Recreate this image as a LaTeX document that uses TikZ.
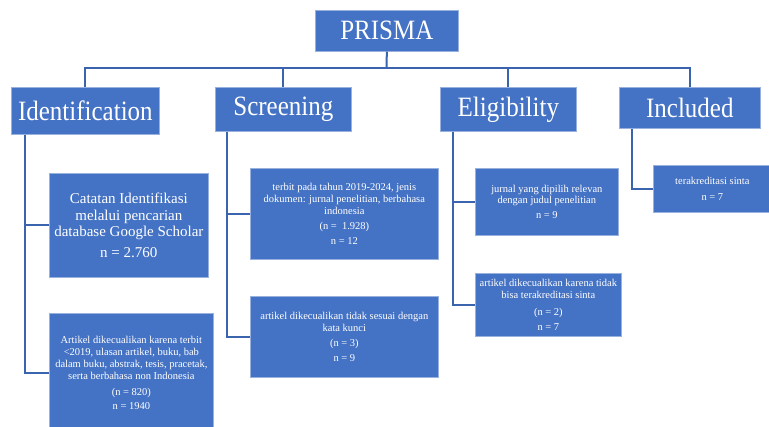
\documentclass[tikz,border=0pt]{standalone}
\usepackage{fontspec}
\usepackage{graphicx}
\setmainfont{Liberation Serif}
\definecolor{boxblue}{HTML}{4472C4}
\definecolor{linkblue}{HTML}{3A64AE}
\newcommand{\tallword}[1]{\scalebox{1}[1.12]{#1}}
\begin{document}
\begin{tikzpicture}[x=1pt,y=-1pt,
  box/.style={draw=boxblue!55!white, line width=0.7pt, fill=boxblue, text=white, align=center, inner sep=0pt, anchor=north west},
  big/.style={box, font=\fontsize{25}{28}\selectfont},
  mid/.style={box, font=\fontsize{15}{16.5}\selectfont},
  small/.style={box, font=\fontsize{10.5}{11.8}\selectfont},
  link/.style={draw=linkblue, line width=2pt}
]
\clip (0,0) rectangle (769,427);
\fill[white] (0,0) rectangle (769,427);
% top level
\node[big, minimum width=143pt, minimum height=41pt] (prisma) at (315,10) {\tallword{PRISMA}};
\node[big, minimum width=148pt, minimum height=47pt] (ident) at (11,87) {\tallword{Identification}};
\node[big, minimum width=136pt, minimum height=44pt] (screen) at (215,87) {\tallword{Screening}};
\node[big, minimum width=136pt, minimum height=44pt] (elig) at (440,87) {\tallword{Eligibility}};
\node[big, minimum width=141pt, minimum height=41pt] (incl) at (619,87) {\tallword{Included}};
% bus
\coordinate (bus) at (386.5,68);
\draw[link] (prisma.south) -- (bus);
\draw[link] (ident.north) |- (bus);
\draw[link] (screen.north) |- (bus);
\draw[link] (elig.north) |- (bus);
\draw[link] (incl.north) |- (bus);
% identification children
\node[mid, minimum width=159pt, minimum height=104pt] (cat) at (49,173)
  {Catatan Identifikasi\\ melalui pencarian\\ database Google Scholar\\[4pt] n = 2.760};
\node[small, minimum width=164pt, minimum height=120pt] (art) at (49,313)
  {Artikel dikecualikan karena terbit\\ <2019, ulasan artikel, buku, bab\\ dalam buku, abstrak, tesis, pracetak,\\ serta berbahasa non Indonesia\\[4pt] (n = 820)\\[3pt] n = 1940};
\draw[link] ([xshift=14pt]ident.south west) |- (cat.west);
\draw[link] ([xshift=14pt]ident.south west) |- (art.west);
% screening children
\node[small, minimum width=188pt, minimum height=91pt] (scra) at (250,168)
  {terbit pada tahun 2019-2024, jenis\\ dokumen: jurnal penelitian, berbahasa\\ indonesia\\[3pt] (n = \ 1.928)\\[3pt] n = 12};
\node[small, minimum width=188pt, minimum height=81pt] (scrb) at (250,296)
  {artikel dikecualikan tidak sesuai dengan\\ kata kunci\\[4pt] (n = 3)\\[3pt] n = 9};
\draw[link] ([xshift=12pt]screen.south west) |- (scra.west);
\draw[link] ([xshift=12pt]screen.south west) |- (scrb.west);
% eligibility children
\node[small, minimum width=143pt, minimum height=67pt] (ela) at (475,168)
  {jurnal yang dipilih relevan\\ dengan judul penelitian\\[3pt] n = 9};
\node[small, minimum width=146pt, minimum height=63pt] (elb) at (475,273)
  {artikel dikecualikan karena tidak\\ bisa terakreditasi sinta\\[5pt] (n = 2)\\[3pt] n = 7};
\draw[link] ([xshift=13pt]elig.south west) |- (ela.west);
\draw[link] ([xshift=13pt]elig.south west) |- (elb.west);
% included child
\node[small, minimum width=118pt, minimum height=47pt] (inca) at (653,165)
  {terakreditasi sinta\\[4pt] n = 7};
\draw[link] ([xshift=13pt]incl.south west) |- (inca.west);
\end{tikzpicture}
\end{document}
